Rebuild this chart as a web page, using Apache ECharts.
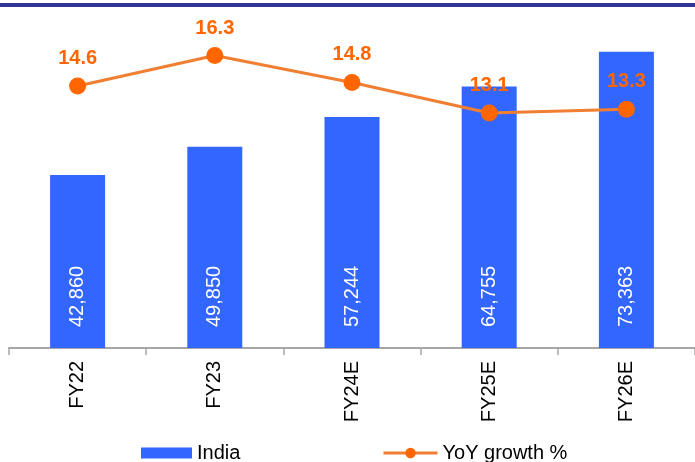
<!DOCTYPE html>
<html>
<head>
<meta charset="utf-8">
<script src="https://cdn.jsdelivr.net/npm/echarts@6/dist/echarts.min.js"></script>
<style>
  html, body { margin: 0; padding: 0; background: #ffffff; }
  #chart { width: 695px; height: 462px; }
</style>
</head>
<body>
<div id="chart"></div>
<script>
// Fiscal years and values
const categories = ['FY22', 'FY23', 'FY24E', 'FY25E', 'FY26E'];
const indiaValues = [42860, 49850, 57244, 64755, 73363];
const yoyGrowth = [14.6, 16.3, 14.8, 13.1, 13.3];

const FONT = '"Liberation Sans", Arial, sans-serif';

const chart = echarts.init(document.getElementById('chart'), null, { renderer: 'canvas' });

const legendText = { fontFamily: FONT, fontSize: 20, color: '#000000' };

chart.setOption({
  animation: false,
  backgroundColor: '#ffffff',
  graphic: [
    // Header rule along the top edge
    { type: 'rect', left: 0, top: 3, shape: { width: 695, height: 4 }, style: { fill: '#333399' } }
  ],
  legend: [
    {
      left: 141,
      top: 443,
      padding: 0,
      itemWidth: 51,
      itemHeight: 11,
      textStyle: legendText,
      data: [{ name: 'India', icon: 'rect', itemStyle: { color: '#3366FF' } }]
    },
    {
      left: 382,
      top: 443,
      padding: 0,
      itemWidth: 54,
      itemHeight: 13,
      textStyle: legendText,
      data: [{ name: 'YoY growth %', lineStyle: { width: 3, color: '#F07F31' }, itemStyle: { color: '#FF6600' } }]
    }
  ],
  grid: { left: 9, right: 0, top: 25, bottom: 114, containLabel: false },
  xAxis: {
    type: 'category',
    data: categories,
    boundaryGap: true,
    axisLine: { lineStyle: { color: '#A6A6A6', width: 2 } },
    axisTick: { show: true, length: 7, lineStyle: { color: '#A6A6A6', width: 1.5 } },
    axisLabel: {
      rotate: 90,
      margin: 13,
      fontFamily: FONT,
      fontSize: 20,
      color: '#000000'
    }
  },
  yAxis: [
    { type: 'value', min: 0, max: 80000, show: false, splitLine: { show: false } },
    { type: 'value', min: 0, max: 18, show: false, splitLine: { show: false } }
  ],
  series: [
    {
      name: 'India',
      type: 'bar',
      data: indiaValues,
      barWidth: 55,
      itemStyle: { color: '#3366FF' },
      label: {
        show: true,
        position: 'insideBottom',
        distance: 21,
        rotate: 90,
        align: 'left',
        verticalAlign: 'middle',
        fontFamily: FONT,
        fontSize: 20,
        color: '#ffffff',
        formatter: p => p.value.toLocaleString('en-US')
      }
    },
    {
      name: 'YoY growth %',
      type: 'line',
      yAxisIndex: 1,
      data: yoyGrowth,
      symbol: 'circle',
      symbolSize: 17,
      lineStyle: { color: '#F07F31', width: 3 },
      itemStyle: { color: '#FF6600' },
      label: {
        show: true,
        position: 'top',
        distance: 9,
        fontFamily: FONT,
        fontSize: 20,
        fontWeight: 'bold',
        color: '#FF6600',
        formatter: p => p.value.toFixed(1)
      },
      z: 3
    }
  ]
});
</script>
</body>
</html>
